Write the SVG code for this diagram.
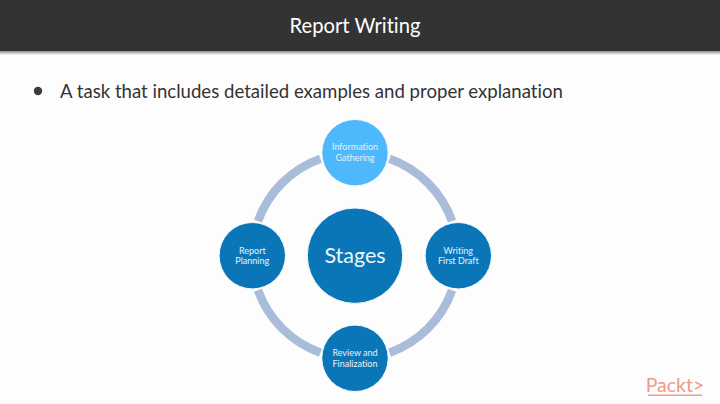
<svg xmlns="http://www.w3.org/2000/svg" width="720" height="404" viewBox="0 0 720 404">
<defs>
<linearGradient id="hs" x1="0" y1="0" x2="0" y2="1"><stop offset="0" stop-color="#8a8a8a"/><stop offset="1" stop-color="#fdfdfd"/></linearGradient>
</defs>
<style>
text{font-family:Lato,"Liberation Sans",sans-serif;text-anchor:middle;font-variant-ligatures:none}
.node{fill:#0b76b7;stroke:#f4f8fb;stroke-width:1}
.lbl{fill:#e6f1f8;font-size:9px}
.arc{fill:none;stroke:#a9bcd9;stroke-width:8.5}
</style>
<rect width="720" height="404" fill="#fdfdfd"/>
<rect y="51" width="720" height="4" fill="url(#hs)"/>
<rect width="720" height="51" fill="#333333"/>
<text id="title" x="355" y="33" font-size="20.2" fill="#ffffff">Report Writing</text>
<circle cx="38" cy="91" r="4.2" fill="#3c3c3c"/>
<text x="60" y="98" font-size="18.6" fill="#333333" style="text-anchor:start">A task that includes detailed examples and proper explanation</text>
<g id="connectors">
<path class="arc" d="M389.55 158.67A103 103 0 0 1 452.03 221.15"/>
<path class="arc" d="M452.03 290.25A103 103 0 0 1 389.55 352.73"/>
<path class="arc" d="M320.45 352.73A103 103 0 0 1 257.97 290.25"/>
<path class="arc" d="M257.97 221.15A103 103 0 0 1 320.45 158.67"/>
</g>
<g id="node-stages"><circle class="node" cx="355" cy="255.7" r="47.7"/><text x="355" y="262.7" font-size="21.5" fill="#eef5fa">Stages</text></g>
<g id="node-information"><circle cx="355" cy="152.7" r="33.2" fill="#4db8fc" stroke="#f4f8fb"/><text class="lbl" x="355" y="150.3">Information</text><text class="lbl" x="355" y="160.8">Gathering</text></g>
<g id="node-writing"><circle class="node" cx="458.3" cy="255.7" r="33.2"/><text class="lbl" x="458.3" y="253.5">Writing</text><text class="lbl" x="458.3" y="264">First Draft</text></g>
<g id="node-review"><circle class="node" cx="355" cy="358.3" r="33.2"/><text class="lbl" x="355" y="356">Review and</text><text class="lbl" x="355" y="366.5">Finalization</text></g>
<g id="node-planning"><circle class="node" cx="252.3" cy="255.7" r="33.2"/><text class="lbl" x="252.3" y="253.5">Report</text><text class="lbl" x="252.3" y="264">Planning</text></g>
<text x="675" y="392" font-size="19.5" fill="#ee9a8c">Packt&gt;</text>
<rect x="648" y="394.5" width="54" height="1.4" fill="#ee9a8c"/>
</svg>
